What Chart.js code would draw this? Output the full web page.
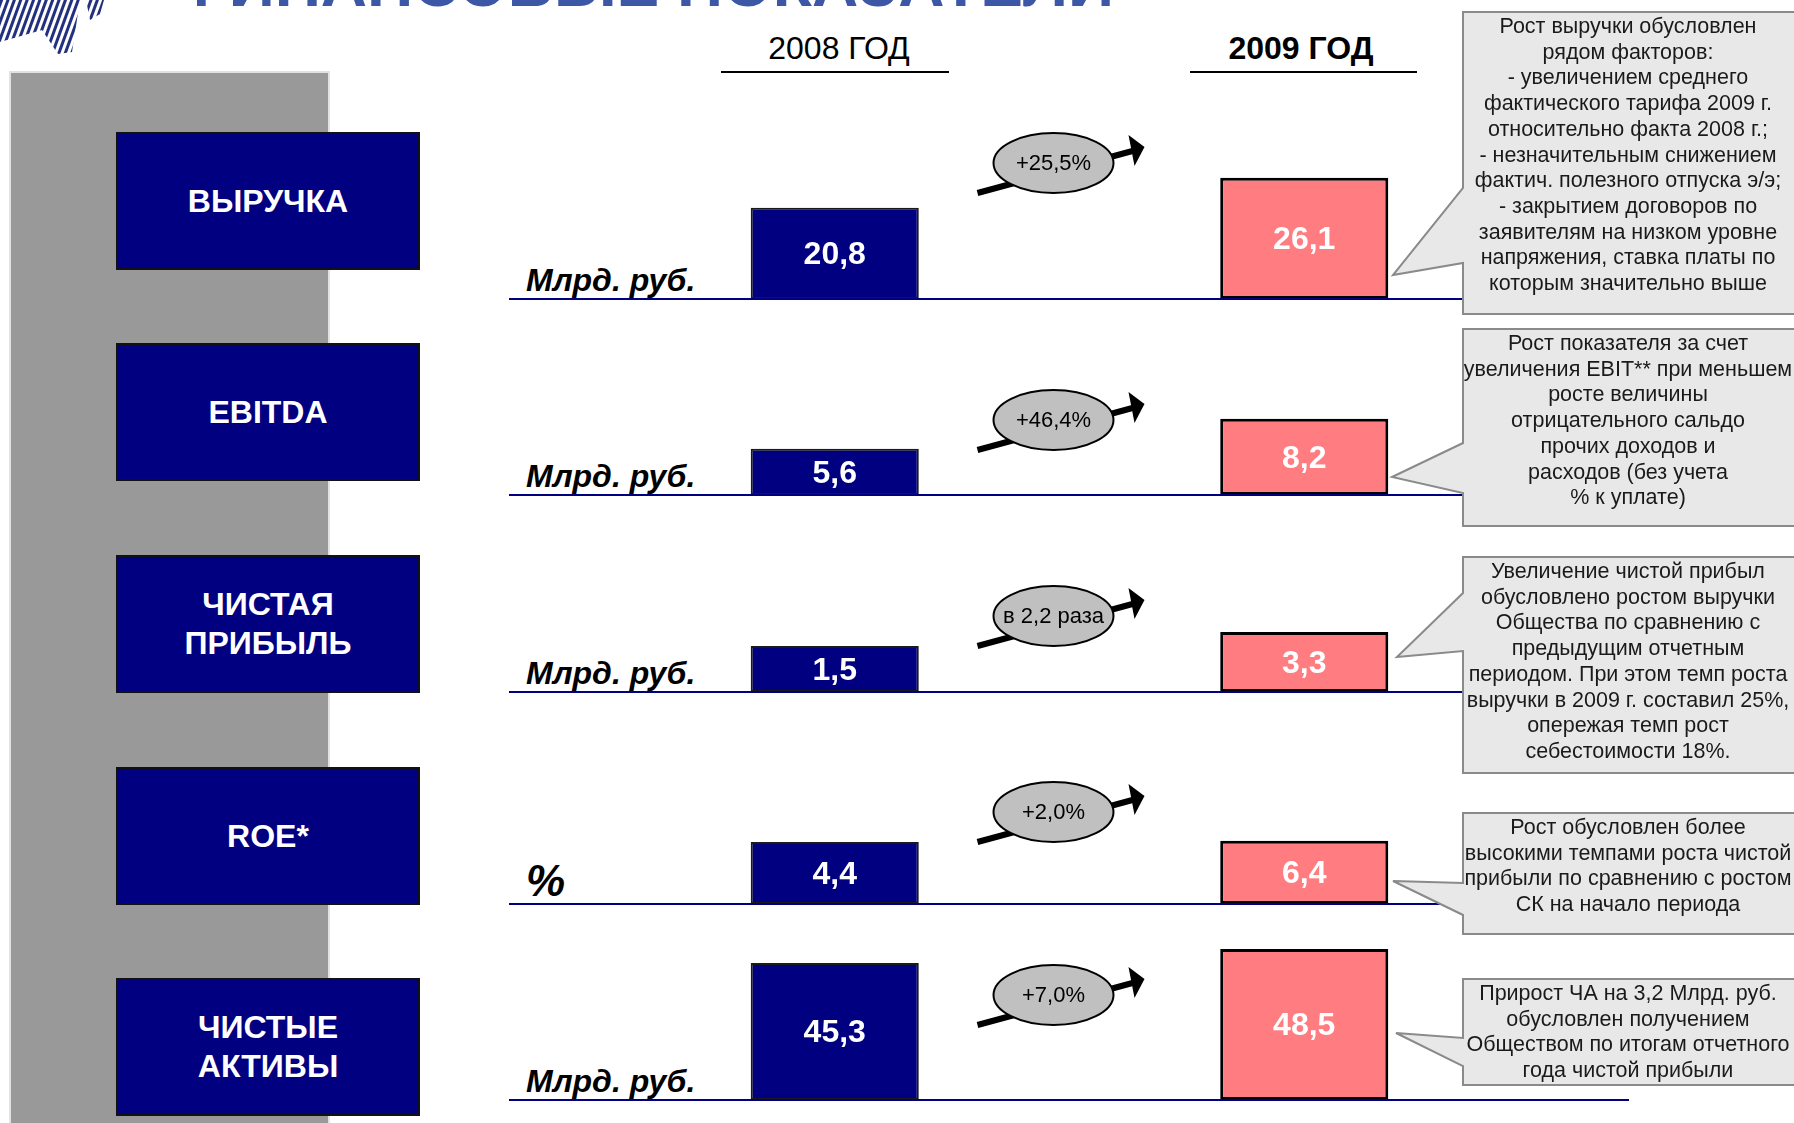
<!DOCTYPE html>
<html lang="ru">
<head>
<meta charset="utf-8">
<title>Финансовые показатели</title>
<script src="https://cdn.jsdelivr.net/npm/chart.js@4.4.0/dist/chart.umd.min.js"></script>
<style>
    html, body { margin: 0; padding: 0; background: #fff; }
    body { width: 1794px; height: 1123px; position: relative; overflow: hidden;
           font-family: "Liberation Sans", Arial, sans-serif; }
    .abs { position: absolute; }
    .title { left: 174px; top: -48px; font-size: 64px; line-height: 64px; font-weight: bold;
             color: #3B57A6; white-space: nowrap; }
    .panel { left: 11px; top: 73px; width: 317px; height: 1060px; background: #999;
             box-shadow: 0 0 0 2px #e2e2e2; }
    .box { left: 116px; width: 300px; height: 134px; background: #000080; border: 2px solid #111;
           color: #fff; font-weight: bold; font-size: 32px; line-height: 39px; text-align: center;
           display: flex; align-items: center; justify-content: center; white-space: pre; }
    .year { width: 260px; text-align: center; font-size: 32px; line-height: 36px; top: 30px; color: #000; }
    .uline { height: 2px; background: #000; top: 71px; }
    .unit { left: 526px; font-weight: bold; font-style: italic; font-size: 32px; line-height: 32px; color: #000; }
    .base { height: 2px; background: #000080; left: 509px; }
    .note { width: 400px; color: #1a1a1a; font-size: 21.5px; line-height: 25.7px; text-align: center;
            white-space: nowrap; left: 1428px; }
</style>
</head>
<body>

<svg class="abs" style="left:0;top:0" width="110" height="60">
    <defs>
        <pattern id="stripes" width="6" height="6" patternUnits="userSpaceOnUse" patternTransform="rotate(20)">
            <rect width="3" height="6" fill="#23307F"></rect>
        </pattern>
        <clipPath id="logoClip">
            <polygon points="0,0 80,0 72,52 58,54 42,30 0,42"></polygon>
            <polygon points="86,0 104,0 100,14 90,20"></polygon>
        </clipPath>
    </defs>
    <rect width="110" height="60" fill="url(#stripes)" clip-path="url(#logoClip)"></rect>
</svg>
<div class="abs title">ФИНАНСОВЫЕ ПОКАЗАТЕЛИ</div>

<div class="abs panel"></div>
<div id="layer"></div>

<script>
// ---------- Data ----------
const indicators = ["ВЫРУЧКА", "EBITDA", "ЧИСТАЯ\nПРИБЫЛЬ", "ROE*", "ЧИСТЫЕ\nАКТИВЫ"];
const units = ["Млрд. руб.", "Млрд. руб.", "Млрд. руб.", "%", "Млрд. руб."];
const years = ["2008 ГОД", "2009 ГОД"];
const values2008 = [20.8, 5.6, 1.5, 4.4, 45.3];
const values2009 = [26.1, 8.2, 3.3, 6.4, 48.5];
const growthLabels = ["+25,5%", "+46,4%", "в 2,2 раза", "+2,0%", "+7,0%"];
const comments = [
    ["Рост выручки обусловлен", "рядом факторов:", "- увеличением среднего",
     "фактического тарифа 2009 г.", "относительно факта 2008 г.;", "- незначительным снижением",
     "фактич. полезного отпуска э/э;", "- закрытием договоров по", "заявителям на низком уровне",
     "напряжения, ставка платы по", "которым значительно выше"],
    ["Рост показателя за счет", "увеличения EBIT** при меньшем", "росте величины",
     "отрицательного сальдо", "прочих доходов и", "расходов (без учета", "% к уплате)"],
    ["Увеличение чистой прибыл", "обусловлено ростом выручки", "Общества по сравнению с",
     "предыдущим отчетным", "периодом. При этом темп роста", "выручки в 2009 г. составил 25%,",
     "опережая темп рост", "себестоимости 18%."],
    ["Рост обусловлен более", "высокими темпами роста чистой", "прибыли по сравнению с ростом",
     "СК на начало периода"],
    ["Прирост ЧА на 3,2 Млрд. руб.", "обусловлен получением", "Обществом по итогам отчетного",
     "года чистой прибыли"]
];

// ---------- Layout ----------
const rowBaseline = [299, 495, 692, 904, 1100];
const rowBoxTop = [132, 343, 555, 767, 978];
const ellipseRise = [136, 75, 76, 92, 105];
// each row has its own value axis (the source bars are not on one common scale)
const axisMin = [4.7, 1.6, -4.4, -100, 14];
const axisMax = [36.5, 17.2, 18.7, 203, 55.1];
const callouts = [
    { top: 12,  bottom: 314,  jt: 188,  jb: 263,  tx: 1393, ty: 275 },
    { top: 329, bottom: 526,  jt: 443,  jb: 493,  tx: 1392, ty: 477 },
    { top: 557, bottom: 773,  jt: 593,  jb: 651,  tx: 1397, ty: 657 },
    { top: 813, bottom: 934,  jt: 883,  jb: 915,  tx: 1393, ty: 881 },
    { top: 979, bottom: 1085, jt: 1038, jb: 1066, tx: 1396, ty: 1033 }
];
const ROW_H = 180;

const layer = document.getElementById("layer");

function addDiv(cls, style, text) {
    const d = document.createElement("div");
    d.className = "abs " + cls;
    d.style.cssText = style;
    if (text !== undefined) d.textContent = text;
    layer.appendChild(d);
    return d;
}

function fmt(v) {
    return v.toFixed(1).replace(".", ",");
}

// ---------- Plugins ----------
const valueLabels = {
    id: "valueLabels",
    afterDatasetsDraw(chart) {
        const ctx = chart.ctx;
        const meta = chart.getDatasetMeta(0);
        ctx.save();
        ctx.fillStyle = "#fff";
        ctx.font = 'bold 32px "Liberation Sans", Arial, sans-serif';
        ctx.textAlign = "center";
        ctx.textBaseline = "middle";
        meta.data.forEach((bar, j) => {
            const v = chart.data.datasets[0].data[j];
            ctx.fillText(fmt(v), bar.x, (bar.y + bar.base) / 2 + 2);
        });
        ctx.restore();
    }
};

function growthBadge(i) {
    return {
        id: "growthBadge",
        afterDatasetsDraw(chart) {
            const ctx = chart.ctx;
            const bars = chart.getDatasetMeta(0).data;
            const cx = (bars[0].x + bars[1].x) / 2 - 16;
            const cy = chart.chartArea.bottom - ellipseRise[i];
            ctx.save();
            // arrow
            ctx.strokeStyle = "#000";
            ctx.lineWidth = 6;
            ctx.beginPath();
            ctx.moveTo(cx - 76, cy + 30);
            ctx.lineTo(cx + 79, cy - 12);
            ctx.stroke();
            ctx.fillStyle = "#000";
            ctx.beginPath();
            ctx.moveTo(cx + 75, cy - 28);
            ctx.lineTo(cx + 91, cy - 16);
            ctx.lineTo(cx + 81, cy + 3);
            ctx.closePath();
            ctx.fill();
            // ellipse
            ctx.beginPath();
            ctx.ellipse(cx, cy, 60, 30, 0, 0, Math.PI * 2);
            ctx.fillStyle = "#C0C0C0";
            ctx.fill();
            ctx.lineWidth = 2;
            ctx.strokeStyle = "#000";
            ctx.stroke();
            ctx.fillStyle = "#000";
            ctx.font = '22px "Liberation Sans", Arial, sans-serif';
            ctx.textAlign = "center";
            ctx.textBaseline = "middle";
            ctx.fillText(growthLabels[i], cx, cy + 1);
            ctx.restore();
        }
    };
}

// ---------- Row chart ----------
function drawRow(i) {
    const canvas = document.createElement("canvas");
    canvas.width = 939;
    canvas.height = ROW_H;
    canvas.style.cssText = `position:absolute;left:600px;top:${rowBaseline[i] - ROW_H}px;`;
    layer.appendChild(canvas);

    new Chart(canvas.getContext("2d"), {
        type: "bar",
        data: {
            labels: years,
            datasets: [{
                data: [values2008[i], values2009[i]],
                base: axisMin[i],
                backgroundColor: ["#000080", "#FF7C80"],
                borderColor: ["#1a1a1a", "#000"],
                borderWidth: [2, 3],
                borderSkipped: false,
                barPercentage: 0.358,
                categoryPercentage: 1
            }]
        },
        options: {
            responsive: false,
            animation: false,
            events: [],
            layout: { padding: 0 },
            plugins: { legend: { display: false }, tooltip: { enabled: false } },
            scales: {
                x: { display: false },
                y: { display: false, min: axisMin[i], max: axisMax[i] }
            }
        },
        plugins: [valueLabels, growthBadge(i)]
    });
}

// ---------- Build page ----------
// year headers
addDiv("year", "left:709px;", years[0]);
addDiv("year", "left:1171px;font-weight:bold;", years[1]);
addDiv("uline", "left:721px;width:228px;");
addDiv("uline", "left:1190px;width:227px;");

indicators.forEach((name, i) => {
    addDiv("box", `top:${rowBoxTop[i]}px;`, name);
    if (units[i] === "%") {
        addDiv("unit", `top:${rowBaseline[i] - 45}px;font-size:44px;line-height:44px;`, units[i]);
    } else {
        addDiv("unit", `top:${rowBaseline[i] - 35}px;`, units[i]);
    }
    drawRow(i);
    const endX = i === 4 ? 1629 : 1463;
    addDiv("base", `top:${rowBaseline[i] - 1}px;width:${endX - 509}px;`);
});

// callouts
const svgNS = "http://www.w3.org/2000/svg";
const svg = document.createElementNS(svgNS, "svg");
svg.setAttribute("width", "1794");
svg.setAttribute("height", "1123");
svg.style.cssText = "position:absolute;left:0;top:0;";
callouts.forEach(c => {
    const p = document.createElementNS(svgNS, "path");
    p.setAttribute("d", `M1463 ${c.top} L1800 ${c.top} L1800 ${c.bottom} L1463 ${c.bottom} ` +
        `L1463 ${c.jb} L${c.tx} ${c.ty} L1463 ${c.jt} Z`);
    p.setAttribute("fill", "#E8E8E8");
    p.setAttribute("stroke", "#8a8a8a");
    p.setAttribute("stroke-width", "2");
    svg.appendChild(p);
});
layer.appendChild(svg);

comments.forEach((lines, i) => {
    const d = addDiv("note", `top:${callouts[i].top + 2}px;`);
    d.innerHTML = lines.map(s => s.replace(/&/g, "&amp;").replace(/</g, "&lt;")).join("<br>");
});
</script>
</body>
</html>
